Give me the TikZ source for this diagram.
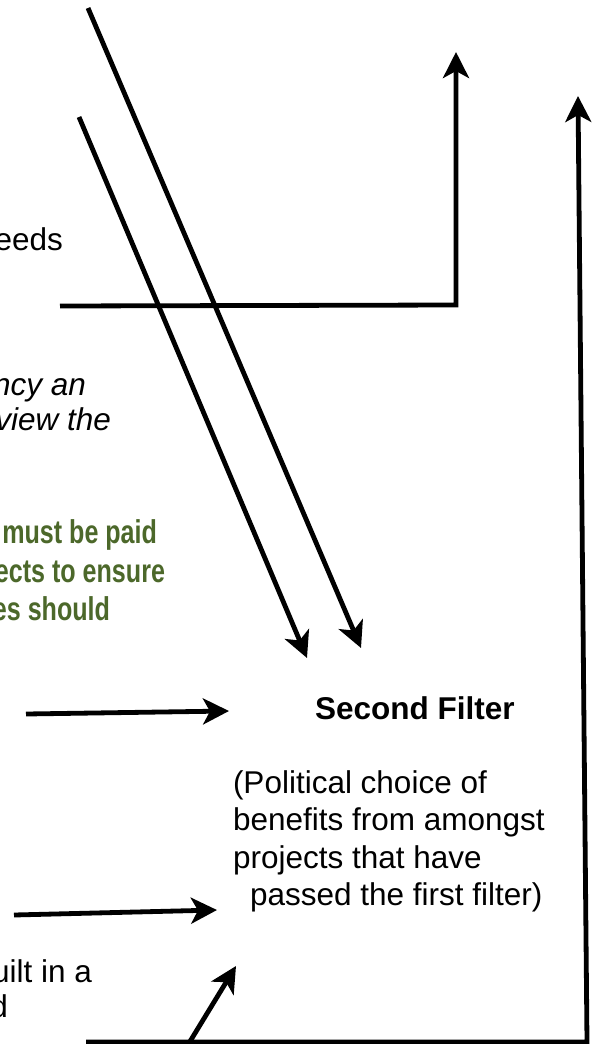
\documentclass[tikz,border=0pt]{standalone}
\usepackage{fontspec}
\setmainfont{Liberation Sans}
\newfontfamily\narrowfont[FakeStretch=0.76]{Liberation Sans}
\usetikzlibrary{arrows.meta}
\definecolor{txtgreen}{RGB}{76,104,42}
\tikzset{
  conn/.style={line width=4.8pt, draw=black, line join=miter},
  arr/.style={conn, -{Stealth[length=26pt, width=26pt, inset=7pt]}},
  txt/.style={inner sep=0pt, outer sep=0pt, font=\fontsize{31.5}{37.5}\selectfont},
  txtr/.style={txt, anchor=base east},
  txtl/.style={txt, anchor=base west},
  greentxt/.style={txtr, text=txtgreen, font=\fontsize{33}{38.5}\selectfont\narrowfont\bfseries}
}
\begin{document}
\begin{tikzpicture}[x=1pt, y=-1pt]
\useasboundingbox (0,0) rectangle (597,1044);
\clip (0,0) rectangle (597,1044);
% text fragments on the left
\node[txtr] (eeds) at (63,250) {eeds};
\node[txtr] (ncy) at (86,395) {\itshape ncy an};
\node[txtr] (view) at (111,430) {\itshape view the};
\node[greentxt] (g1) at (157,543) {must be paid};
\node[greentxt] (g2) at (165,582) {ects to ensure};
\node[greentxt] (g3) at (110,620) {es should};
\node[txtr] (uilt) at (92,982) {uilt in a};
\node[txtr] (dd) at (8,1017) {d};
% second filter block
\node[txtl] (sf) at (315,719) {\bfseries Second Filter};
\node[txtl] (p1) at (233,793) {(Political choice of};
\node[txtl] (p2) at (233,830.5) {benefits from amongst};
\node[txtl] (p3) at (233,868) {projects that have};
\node[txtl] (p4) at (250,905.5) {passed the first filter)};
% connector end points
\coordinate (a1s) at (88,8);
\coordinate (a1e) at (361,648);
\coordinate (a2s) at (79,117);
\coordinate (a2e) at (307,658);
\coordinate (hs) at (60,306);
\coordinate (hc) at (456,305);
\coordinate (he) at (456,52);
\coordinate (bs) at (86,1042);
\coordinate (bc) at (587,1042);
\coordinate (be) at (578,96);
\coordinate (a3s) at (26,714);
\coordinate (a3e) at (229,711);
\coordinate (a4s) at (14,915);
\coordinate (a4e) at (217,910);
\coordinate (a5s) at (186,1048);
\coordinate (a5e) at (236,966);
% connectors
\draw[arr] (a1s) -- (a1e);
\draw[arr] (a2s) -- (a2e);
\draw[arr] (hs) -- (hc) -- (he);
\draw[arr] (bs) -- (bc) -- (be);
\draw[arr] (a3s) -- (a3e);
\draw[arr] (a4s) -- (a4e);
\draw[arr] (a5s) -- (a5e);
\end{tikzpicture}
\end{document}
